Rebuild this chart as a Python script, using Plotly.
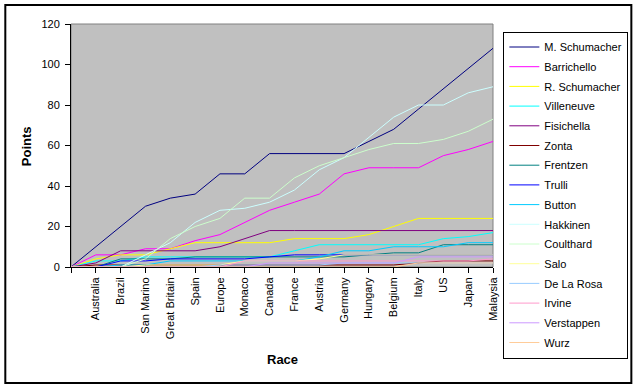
import plotly.graph_objects as go

races = ["", "Australia", "Brazil", "San Marino", "Great Britain", "Spain", "Europe",
         "Monaco", "Canada", "France", "Austria", "Germany", "Hungary", "Belgium",
         "Italy", "US", "Japan", "Malaysia"]

m_schumacher = [0, 10, 20, 30, 34, 36, 46, 46, 56, 56, 56, 56, 62, 68, 78, 88, 98, 108]
barrichello  = [0, 6, 6, 9, 9, 13, 16, 22, 28, 32, 36, 46, 49, 49, 49, 55, 58, 62]
r_schumacher = [0, 4, 6, 6, 9, 12, 12, 12, 12, 14, 14, 14, 16, 20, 24, 24, 24, 24]
villeneuve   = [0, 3, 3, 5, 5, 5, 5, 5, 5, 8, 11, 11, 11, 11, 11, 14, 15, 17]
fisichella   = [0, 2, 8, 8, 8, 8, 10, 14, 18, 18, 18, 18, 18, 18, 18, 18, 18, 18]
zonta        = [0, 1, 1, 1, 1, 1, 1, 1, 1, 1, 1, 1, 1, 1, 2, 3, 3, 3]
frentzen     = [0, 0, 4, 4, 4, 5, 5, 5, 5, 5, 5, 5, 6, 7, 7, 11, 11, 11]
trulli       = [0, 0, 3, 3, 4, 4, 4, 4, 5, 6, 6, 6, 6, 6, 6, 6, 6, 6]
button       = [0, 0, 1, 1, 3, 3, 3, 3, 3, 3, 5, 8, 8, 10, 10, 10, 12, 12]
hakkinen     = [0, 0, 0, 6, 12, 22, 28, 29, 32, 38, 48, 54, 64, 74, 80, 80, 86, 89]
coulthard    = [0, 0, 0, 4, 14, 20, 24, 34, 34, 44, 50, 54, 58, 61, 61, 63, 67, 73]
salo         = [0, 0, 0, 1, 1, 1, 1, 3, 3, 3, 4, 6, 6, 6, 6, 6, 6, 6]
de_la_rosa   = [0, 0, 0, 0, 0, 0, 1, 1, 1, 1, 1, 2, 2, 2, 2, 2, 2, 2]
irvine       = [0, 0, 0, 0, 0, 0, 0, 3, 3, 3, 3, 3, 3, 3, 3, 3, 3, 4]
verstappen   = [0, 0, 0, 0, 0, 0, 0, 0, 2, 2, 2, 2, 2, 2, 5, 5, 5, 5]
wurz         = [0, 0, 0, 0, 0, 0, 0, 0, 0, 0, 0, 0, 0, 0, 2, 2, 2, 2]

drivers = ["M. Schumacher", "Barrichello", "R. Schumacher", "Villeneuve", "Fisichella",
           "Zonta", "Frentzen", "Trulli", "Button", "Hakkinen", "Coulthard", "Salo",
           "De La Rosa", "Irvine", "Verstappen", "Wurz"]
series = [m_schumacher, barrichello, r_schumacher, villeneuve, fisichella, zonta,
          frentzen, trulli, button, hakkinen, coulthard, salo, de_la_rosa, irvine,
          verstappen, wurz]
colors = ["#000080", "#FF00FF", "#FFFF00", "#00FFFF", "#800080", "#800000",
          "#008080", "#0000FF", "#00CCFF", "#CCFFFF", "#CCFFCC", "#FFFF99",
          "#99CCFF", "#FF99CC", "#CC99FF", "#FFCC99"]

xs = list(range(len(races)))

fig = go.Figure()
for name, vals, col in zip(drivers, series, colors):
    fig.add_trace(go.Scatter(x=xs, y=vals, mode="lines", name=name, legendgroup=name,
                             line=dict(color=col, width=1), hoverinfo="skip"))

FONT = "Arial, 'Liberation Sans', sans-serif"

# plot area in pixels: x 71..495, y 24..267
L, R, T, B = 71, 495, 24, 267
W, H = R - L, B - T
def px(x):
    return (x - L) / W
def py(y):
    return (B - y) / H

fig.update_layout(
    width=640, height=390,
    margin=dict(l=L, r=640 - R, t=T, b=390 - B, pad=0),
    paper_bgcolor="white",
    plot_bgcolor="#C0C0C0",
    font=dict(family=FONT, size=11, color="black"),
    showlegend=True,
    legend=dict(x=px(631), y=py(31.5), xanchor="right", yanchor="top",
                bgcolor="white", bordercolor="black", borderwidth=1,
                font=dict(family=FONT, size=11, color="black"),
                traceorder="grouped", tracegroupgap=0.7, maxheight=380),
    xaxis=dict(range=[0, len(races) - 1], tickmode="array", tickvals=xs, ticktext=races,
               tickangle=-90, ticks="outside", ticklen=5, tickcolor="black",
               showline=True, linecolor="black", linewidth=1, showgrid=False,
               zeroline=False, fixedrange=True,
               tickfont=dict(family=FONT, size=11, color="black")),
    yaxis=dict(range=[0, 120], dtick=20, ticks="outside", ticklen=5, tickcolor="black",
               showline=True, linecolor="black", linewidth=1, showgrid=False,
               zeroline=False, fixedrange=True, ticklabelstandoff=3,
               tickfont=dict(family=FONT, size=11, color="black")),
    shapes=[
        # plot area border (gray)
        dict(type="rect", xref="paper", yref="paper", x0=0, y0=0, x1=1, y1=1,
             line=dict(color="#808080", width=1), layer="below"),
        # outer chart border
        dict(type="rect", xref="paper", yref="paper",
             x0=px(5), y0=py(383), x1=px(634), y1=py(5),
             line=dict(color="black", width=2)),
    ],
    annotations=[
        dict(text="<b>Points</b>", xref="paper", yref="paper", x=px(26), y=py(146),
             showarrow=False, textangle=-90, font=dict(family=FONT, size=13, color="black"),
             xanchor="center", yanchor="middle"),
        dict(text="<b>Race</b>", xref="paper", yref="paper", x=px(283), y=py(359),
             showarrow=False, font=dict(family=FONT, size=13, color="black"),
             xanchor="center", yanchor="middle"),
    ],
)

fig.write_html("out.html", config={"displayModeBar": False},
               post_script="document.body.style.margin='0';document.body.style.overflow='hidden';")
